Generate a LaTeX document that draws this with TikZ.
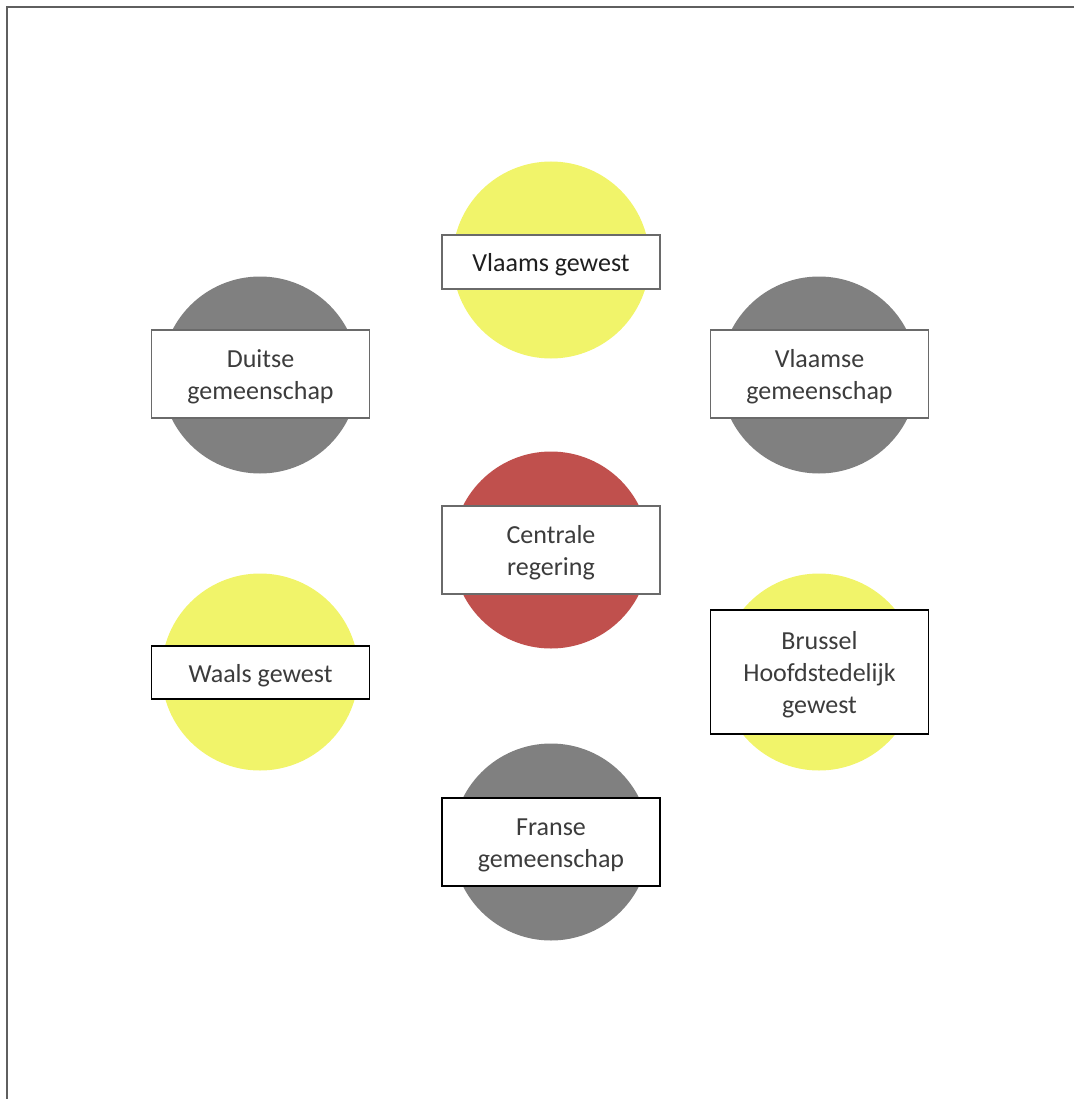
\documentclass[tikz,border=0pt]{standalone}
\usepackage{fontspec}
\setmainfont{Carlito}
\definecolor{ylw}{HTML}{F1F46A}
\definecolor{gry}{HTML}{808080}
\definecolor{rd}{HTML}{C0504D}
\definecolor{txt}{HTML}{3C3C3C}
\definecolor{edgegray}{HTML}{6A6A6A}
\tikzset{
  circ/.style={circle, minimum size=197pt, inner sep=0pt, draw=none},
  lbl/.style={rectangle, fill=white, line width=1.6pt, minimum width=218pt, inner sep=0pt},
  ltext/.style={inner sep=0pt, align=center, font=\fontsize{26}{32}\selectfont, text=txt, yshift=-3pt},
  grayedge/.style={draw=edgegray},
  blackedge/.style={draw=black},
  frame/.style={draw=edgegray!90!black, line width=1.5pt}
}
\begin{document}
\begin{tikzpicture}[x=1pt,y=-1pt]
\useasboundingbox (0,0) rectangle (1074,1099);
\coordinate (tl) at (7,7);
\coordinate (tr) at (1074,7);
\coordinate (bl) at (7,1099);
\draw[frame] (tr) -- (tl) -- (bl);
% circles
\node[circ, fill=ylw] (c1) at (551,260) {};
\node[circ, fill=gry] (c2) at (260,375) {};
\node[circ, fill=gry] (c3) at (819,375) {};
\node[circ, fill=rd]  (c4) at (551,550) {};
\node[circ, fill=ylw] (c5) at (260,672) {};
\node[circ, fill=ylw] (c6) at (819,672) {};
\node[circ, fill=gry] (c7) at (551,842) {};
% label boxes
\node[lbl, grayedge, minimum height=54pt] (b1) at (551,262) {};
\node[lbl, grayedge, minimum height=88pt] (b2) at (260.5,374) {};
\node[lbl, grayedge, minimum height=88pt] (b3) at (819.5,374) {};
\node[lbl, grayedge, minimum height=88pt] (b4) at (551,550) {};
\node[lbl, blackedge, minimum height=53pt] (b5) at (260.5,672.5) {};
\node[lbl, blackedge, minimum height=124pt] (b6) at (819.5,672) {};
\node[lbl, blackedge, minimum height=88pt] (b7) at (551,842) {};
% texts
\node[ltext, text=black!88] (t1) at (b1) {Vlaams gewest};
\node[ltext] (t2) at (b2) {Duitse\\gemeenschap};
\node[ltext] (t3) at (b3) {Vlaamse\\gemeenschap};
\node[ltext] (t4) at (b4) {Centrale\\regering};
\node[ltext] (t5) at (b5) {Waals gewest};
\node[ltext] (t6) at (b6) {Brussel\\Hoofdstedelijk\\gewest};
\node[ltext] (t7) at (b7) {Franse\\gemeenschap};
\end{tikzpicture}
\end{document}
